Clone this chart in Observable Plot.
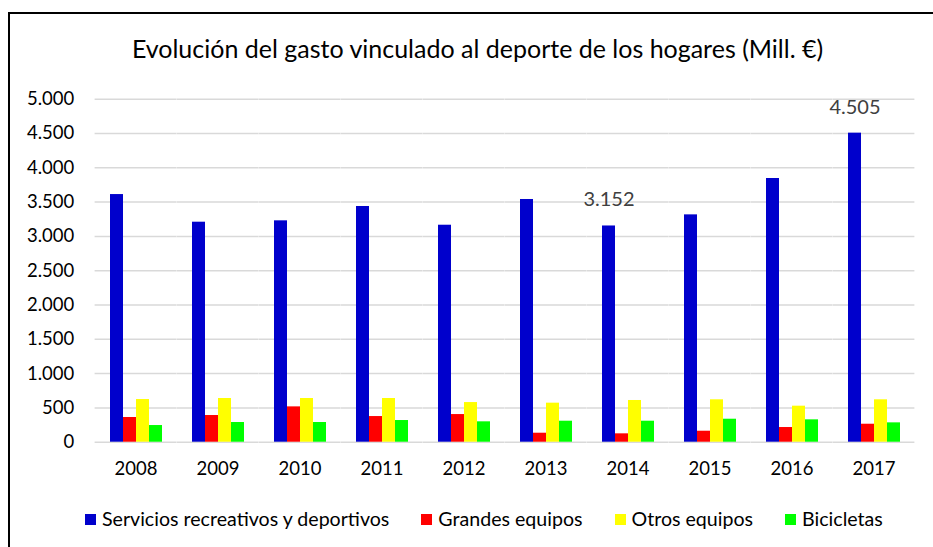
<!DOCTYPE html>
<html><head><meta charset="utf-8">
<script src="https://cdn.jsdelivr.net/npm/d3@7"></script>
<script src="https://cdn.jsdelivr.net/npm/@observablehq/plot@0.6"></script>
<style>
body{margin:0;background:#fff;font-family:Lato, sans-serif;}
#wrap{position:relative;width:933px;height:547px;overflow:hidden;background:#fff;}
#chart{position:absolute;left:0;top:0;}
#frame{position:absolute;left:8px;top:12px;width:1000px;height:600px;border:2px solid #000;box-sizing:border-box;pointer-events:none;}
#title{position:absolute;left:0;width:955px;top:34px;text-align:center;font-size:25px;line-height:28px;color:#000;white-space:nowrap;}
#legend{position:absolute;left:85px;top:507px;display:flex;gap:32px;font-size:19.6px;line-height:24px;color:#000;white-space:nowrap;}
#legend .item{display:flex;align-items:center;}
#legend .sw{width:11px;height:11px;margin-right:6px;}
</style>
</head><body>
<div id="wrap">
  <div id="chart"></div>
  <div id="title"></div>
  <div id="legend"></div>
  <div id="frame"></div>
</div>
<script>
const title = "Evolución del gasto vinculado al deporte de los hogares (Mill. €)";
const years = ["2008","2009","2010","2011","2012","2013","2014","2015","2016","2017"];
const series = ["Servicios recreativos y deportivos","Grandes equipos","Otros equipos","Bicicletas"];
const colors = ["#0000CC","#FF0000","#FFFF00","#00FF00"];
const servicios  = [3610, 3207, 3227, 3436, 3163, 3538, 3152, 3314, 3844, 4505];
const grandes    = [360, 389, 515, 374, 403, 131, 122, 160, 214, 262];
const otros      = [622, 637, 637, 637, 578, 569, 608, 618, 525, 618];
const bicicletas = [243, 287, 287, 316, 297, 306, 306, 335, 326, 282];
const yTicks = [0, 500, 1000, 1500, 2000, 2500, 3000, 3500, 4000, 4500, 5000];
const labeledYears = ["2014", "2017"];

const seriesValues = [servicios, grandes, otros, bicicletas];
const data = [];
years.forEach((yr, i) => series.forEach((s, j) => data.push({year: yr, series: s, value: seriesValues[j][i]})));
const labels = labeledYears.map(yr => ({year: yr, series: series[0], value: servicios[years.indexOf(yr)]}));

const fmt = d3.formatLocale({decimal: ",", thousands: ".", grouping: [3], currency: ["", "€"]}).format(",d");

const chart = Plot.plot({
  width: 933,
  height: 490,
  marginLeft: 94,
  marginRight: 17,
  marginTop: 98.7,
  marginBottom: 48.3,
  style: {background: "transparent", fontFamily: "Lato, sans-serif", fontSize: "18.5px", color: "#000", overflow: "visible"},
  fx: {domain: years, paddingInner: 0.35, paddingOuter: 0.175, label: null, axis: "bottom", tickSize: 0, tickPadding: 20},
  x: {domain: series, padding: 0, axis: null},
  y: {domain: [0, 5000], ticks: yTicks, tickFormat: fmt, label: null, tickSize: 0, tickPadding: 35.3},
  color: {domain: series, range: colors},
  marks: [
    Plot.ruleY(yTicks, {stroke: "#d9d9d9", strokeWidth: 1.5, insetLeft: -14.4, insetRight: -14.4}),
    Plot.barY(data, {fx: "year", x: "series", y: "value", fill: "series"}),
    Plot.text(labels, {fx: "year", x: "series", y: "value", text: d => fmt(d.value), dy: -26, fill: "#404040", fontSize: 20, lineAnchor: "middle"})
  ]
});
document.getElementById("chart").appendChild(chart);
document.getElementById("title").textContent = title;

const legend = document.getElementById("legend");
series.forEach((s, i) => {
  const item = document.createElement("div");
  item.className = "item";
  const sw = document.createElement("span");
  sw.className = "sw";
  sw.style.background = colors[i];
  const t = document.createElement("span");
  t.textContent = s;
  item.appendChild(sw);
  item.appendChild(t);
  legend.appendChild(item);
});
</script>
</body></html>
